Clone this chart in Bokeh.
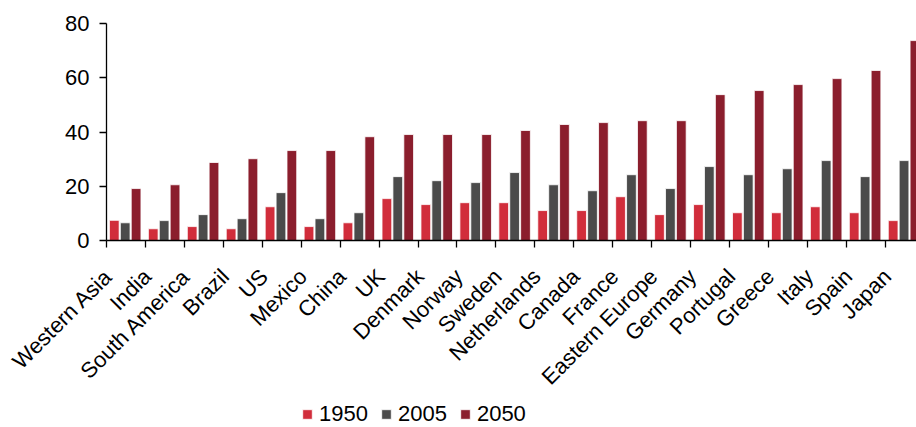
import numpy as np
from bokeh.plotting import figure
from bokeh.models import (Range1d, FixedTicker, Legend, LegendItem, ColumnDataSource,
                          CustomJSTickFormatter)
from bokeh.transform import dodge
from bokeh.embed import file_html
from bokeh.resources import INLINE

categories = ["Western Asia", "India", "South America", "Brazil", "US", "Mexico", "China",
              "UK", "Denmark", "Norway", "Sweden", "Netherlands", "Canada", "France",
              "Eastern Europe", "Germany", "Portugal", "Greece", "Italy", "Spain", "Japan"]
v1950 = [7.5, 4.4, 5.2, 4.4, 12.5, 5.2, 6.6, 15.5, 13.3, 14.0, 14.0, 11.1, 11.1, 16.2,
         9.6, 13.3, 10.3, 10.3, 12.5, 10.3, 7.4]
v2005 = [6.6, 7.4, 9.6, 8.1, 17.7, 8.1, 10.3, 23.6, 22.1, 21.4, 25.1, 20.6, 18.4, 24.3,
         19.2, 27.3, 24.3, 26.5, 29.5, 23.6, 29.5]
v2050 = [19.2, 20.6, 28.8, 30.2, 33.2, 33.2, 38.3, 39.1, 39.1, 39.1, 40.6, 42.8, 43.5, 44.2,
         44.2, 53.8, 55.3, 57.5, 59.7, 62.7, 73.7]
years = ["1950", "2005", "2050"]
colors = ["#D12D3B", "#4B4B4B", "#8B1E2D"]
y_ticks = [0, 20, 40, 60, 80]

FONT = "Liberation Sans"
n = len(categories)
src = ColumnDataSource(dict(x=np.arange(n) + 0.5, v1950=v1950, v2005=v2005, v2050=v2050))

# the frame covers the whole canvas; both axes are pinned at 0 inside it
p = figure(width=916, height=427, output_backend="svg", toolbar_location=None,
           x_range=Range1d(-2.722, 20.8), y_range=Range1d(-68.8, 88.47),
           min_border_left=0, min_border_right=0, min_border_top=0, min_border_bottom=0)
p.outline_line_color = None
p.xgrid.grid_line_color = None
p.ygrid.grid_line_color = None

offsets = [-0.30, -0.02, 0.26]
renderers = []
for yr, col, off in zip(years, colors, offsets):
    r = p.vbar(x=dodge("x", off), top="v" + yr, width=0.25, source=src,
               fill_color=col, line_color="white", line_width=0.8)
    renderers.append(r)

# x axis: boundary ticks as minor ticks, labels placed slightly left of centres
xa = p.xaxis[0]
xa.fixed_location = 0
xa.bounds = (0, 20.8)
xa.ticker = FixedTicker(ticks=list(np.arange(n) + 0.05), minor_ticks=list(range(n + 1)))
xa.formatter = CustomJSTickFormatter(args=dict(names=categories),
                                     code="return names[Math.floor(tick)];")
xa.major_label_orientation = np.pi / 4
xa.major_tick_line_color = None
xa.major_tick_out = 0
xa.major_tick_in = 0
xa.minor_tick_line_color = "black"
xa.minor_tick_line_width = 1.3
xa.minor_tick_out = 7
xa.minor_tick_in = 0
xa.axis_line_color = "black"
xa.axis_line_width = 1.3
xa.major_label_standoff = 25
xa.major_label_text_font = FONT
xa.major_label_text_font_size = "22px"
xa.major_label_text_color = "black"

# y axis
ya = p.yaxis[0]
ya.fixed_location = 0
ya.bounds = (0, 80)
ya.ticker = FixedTicker(ticks=y_ticks)
ya.major_tick_out = 7
ya.major_tick_in = 0
ya.minor_tick_line_color = None
ya.major_tick_line_color = "black"
ya.major_tick_line_width = 1.3
ya.axis_line_color = "black"
ya.axis_line_width = 1.3
ya.major_label_standoff = 10
ya.major_label_text_font = FONT
ya.major_label_text_font_size = "22px"
ya.major_label_text_color = "black"

legend = Legend(items=[LegendItem(label=yr, renderers=[r]) for yr, r in zip(years, renderers)],
                orientation="horizontal", location=(301, 0),
                label_text_font=FONT, label_text_font_size="22px", label_text_color="black",
                glyph_width=12, glyph_height=12, label_standoff=6, spacing=12,
                padding=0, margin=0, border_line_color=None, background_fill_alpha=0,
                label_height=22)
p.add_layout(legend, "center")

open("out.html", "w").write(file_html(p, INLINE))
